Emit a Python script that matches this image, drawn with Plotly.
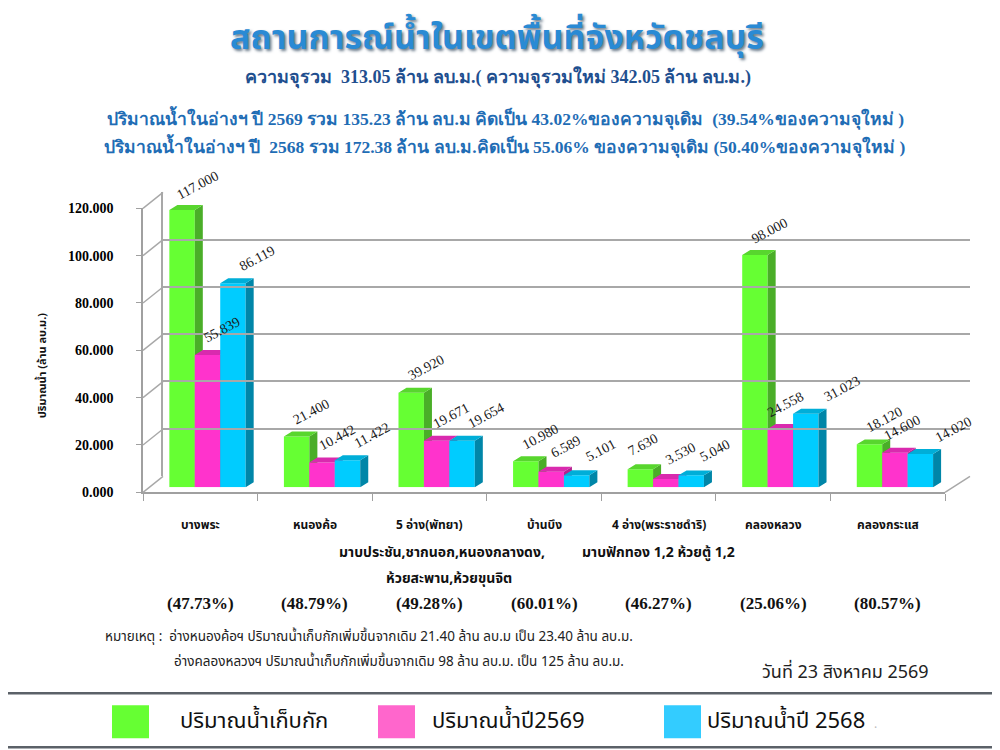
import plotly.graph_objects as go

# data
categories = ["บางพระ", "หนองค้อ", "5 อ่าง(พัทยา)", "บ้านบึง", "4 อ่าง(พระราชดำริ)", "คลองหลวง", "คลองกระแส"]
sub_line2 = ["", "", "มาบประชัน,ชากนอก,หนองกลางดง,", "", "มาบฟักทอง 1,2 ห้วยตู้ 1,2", "", ""]
sub_line3 = ["", "", "ห้วยสะพาน,ห้วยขุนจิต", "", "", "", ""]
capacity = [117.000, 21.400, 39.920, 10.980, 7.630, 98.000, 18.120]
water_2569 = [55.839, 10.442, 19.671, 6.589, 3.530, 24.558, 14.600]
water_2568 = [86.119, 11.422, 19.654, 5.101, 5.040, 31.023, 14.020]
percent_labels = ["(47.73%)", "(48.79%)", "(49.28%)", "(60.01%)", "(46.27%)", "(25.06%)", "(80.57%)"]
series_names = ["ปริมาณน้ำเก็บกัก", "ปริมาณน้ำปี2569", "ปริมาณน้ำปี 2568"]
y_ticks = [0, 20, 40, 60, 80, 100, 120]

title_text = "สถานการณ์น้ำในเขตพื้นที่จังหวัดชลบุรี"
sub1 = "ความจุรวม  313.05 ล้าน ลบ.ม.( ความจุรวมใหม่ 342.05 ล้าน ลบ.ม.)"
sub2 = "ปริมาณน้ำในอ่างฯ ปี 2569 รวม 135.23 ล้าน ลบ.ม คิดเป็น 43.02%ของความจุเดิม  (39.54%ของความจุใหม่ )"
sub3 = "ปริมาณน้ำในอ่างฯ ปี  2568 รวม 172.38 ล้าน ลบ.ม.คิดเป็น 55.06% ของความจุเดิม (50.40%ของความจุใหม่ )"
note1 = "หมายเหตุ :  อ่างหนองค้อฯ ปริมาณน้ำเก็บกักเพิ่มขึ้นจากเดิม 21.40 ล้าน ลบ.ม เป็น 23.40 ล้าน ลบ.ม."
note2 = "อ่างคลองหลวงฯ ปริมาณน้ำเก็บกักเพิ่มขึ้นจากเดิม 98 ล้าน ลบ.ม. เป็น 125 ล้าน ลบ.ม."
date_text = "วันที่ 23 สิงหาคม 2569"
y_title = "ปริมาณน้ำ (ล้าน ลบ.ม.)"

W, H = 1000, 750

# map picture pixels to paper fractions (page is shown shifted / slightly squeezed)
def px(x):
    return (x - 8) / W

def py(y):
    return 1 - ((y - 14.7) / 0.98) / H

THAI = "Noto Sans Thai, Tahoma, Noto Sans, sans-serif"
SERIF = "Liberation Serif, Times New Roman, serif"

front = ["#66ff33", "#ff33cc", "#00ccff"]
side = ["#4aae28", "#b3238f", "#0086a8"]
top = ["#58d62e", "#d92aae", "#00aed8"]
offsets = [-0.27, -0.048, 0.174]
bar_w = 0.222
dx, dy = 0.07, 2.1
label_dx = [15, 15, 24]
label_nudge = {(0, 4): -12, (1, 5): -10, (1, 6): -7, (2, 5): 13, (2, 6): 9}
sub2_shift = [0, 0, 0.11, 0, 0.0, 0, 0]
sub3_shift = [0, 0, 0.175, 0, 0, 0, 0]

series = [capacity, water_2569, water_2568]
axes = [("x", "y"), ("x4", "y4"), ("x5", "y5")]

fig = go.Figure()

for s, vals in enumerate(series):
    xa, ya = axes[s]
    xs = [i + offsets[s] + bar_w / 2 for i in range(len(vals))]
    fig.add_trace(go.Bar(x=xs, y=vals, width=bar_w, name=series_names[s],
                         marker=dict(color=front[s], line=dict(width=0)),
                         xaxis=xa, yaxis=ya, showlegend=False))
    sx, sy, tx, ty = [], [], [], []
    for i, v in enumerate(vals):
        x0 = i + offsets[s]
        x1 = x0 + bar_w
        sx += [x1, x1 + dx, x1 + dx, x1, x1, None]
        sy += [0, dy, v + dy, v, 0, None]
        tx += [x0, x0 + dx, x1 + dx, x1, x0, None]
        ty += [v, v + dy, v + dy, v, v, None]
    fig.add_trace(go.Scatter(x=sx, y=sy, fill="toself", fillcolor=side[s], mode="lines",
                             line=dict(width=0), xaxis=xa, yaxis=ya,
                             showlegend=False, hoverinfo="skip"))
    fig.add_trace(go.Scatter(x=tx, y=ty, fill="toself", fillcolor=top[s], mode="lines",
                             line=dict(width=0), xaxis=xa, yaxis=ya,
                             showlegend=False, hoverinfo="skip"))
    for i, (x, v) in enumerate(zip(xs, vals)):
        fig.add_annotation(x=x, y=v, xref=xa, yref=ya, text=f"{v:.3f}", showarrow=False,
                           xanchor="center", yanchor="middle",
                           xshift=label_dx[s] + label_nudge.get((s, i), 0), yshift=25,
                           textangle=-28,
                           font=dict(family=SERIF, size=14, color="#1a1a1a"))

# invisible traces for the back wall and the front axis
fig.add_trace(go.Scatter(x=[None], y=[None], xaxis="x2", yaxis="y2", showlegend=False))
fig.add_trace(go.Scatter(x=[None], y=[None], xaxis="x3", yaxis="y3", showlegend=False))

fig.update_layout(
    width=W, height=H, margin=dict(l=0, r=0, t=0, b=0),
    paper_bgcolor="white", plot_bgcolor="rgba(0,0,0,0)",
    xaxis=dict(domain=[px(143), px(945)], range=[-0.5, 6.5], visible=False),
    yaxis=dict(domain=[py(487), py(202.6)], range=[0, 120], visible=False),
    xaxis4=dict(overlaying="x", range=[-0.5, 6.5], visible=False),
    yaxis4=dict(overlaying="y", range=[0, 120], visible=False),
    xaxis5=dict(overlaying="x", range=[-0.5, 6.5], visible=False),
    yaxis5=dict(overlaying="y", range=[0, 120], visible=False),
    xaxis2=dict(domain=[px(163), px(970)], range=[0, 1], visible=False, anchor="y2"),
    yaxis2=dict(domain=[py(476), py(192)], range=[-0.2, 120.2], anchor="x2",
                tickvals=y_ticks, showticklabels=False, showgrid=True,
                gridcolor="#a8a8a8", gridwidth=1.5, zeroline=False,
                showline=True, linecolor="#a8a8a8", linewidth=1.5, ticks=""),
    xaxis3=dict(domain=[px(143), px(945)], range=[-0.5, 6.5], anchor="y3",
                tickvals=[i - 0.5 for i in range(len(categories) + 1)],
                showticklabels=False, ticks="outside", ticklen=7, tickcolor="#a0a0a0",
                showline=True, linecolor="#a0a0a0", linewidth=1.5, showgrid=False, zeroline=False),
    yaxis3=dict(domain=[py(492), py(208)], range=[0, 120], anchor="x3",
                tickvals=y_ticks, ticktext=[f"{v:.3f}" for v in y_ticks],
                ticks="outside", ticklen=5, tickcolor="#a0a0a0", ticklabelstandoff=20,
                tickfont=dict(family=SERIF, size=14, color="black", weight="bold"),
                showline=True, linecolor="#a0a0a0", linewidth=1.5, showgrid=False, zeroline=False),
)

# 3D frame: left wall diagonals and right floor edge
shapes = []
for v in y_ticks:
    yf = py(492) + (py(208) - py(492)) * v / 120
    yb = py(476) + (py(192) - py(476)) * v / 120
    shapes.append(dict(type="line", xref="paper", yref="paper", x0=px(143), y0=yf,
                       x1=px(163), y1=yb, line=dict(color="#a8a8a8", width=1.5)))
shapes.append(dict(type="line", xref="paper", yref="paper", x0=px(945), y0=py(492),
                   x1=px(970), y1=py(476), line=dict(color="#a8a8a8", width=1.5)))

# legend drawn as a boxed strip
shapes.append(dict(type="rect", xref="paper", yref="paper", x0=px(1), y0=py(747),
                   x1=px(999), y1=py(693), line=dict(color="#5b6168", width=2.5)))
legend_x = [112, 378, 664]
legend_text_x = [178, 430, 705]
legend_col = ["#66ff33", "#ff66cc", "#33ccff"]
for k in range(3):
    shapes.append(dict(type="rect", xref="paper", yref="paper", x0=px(legend_x[k]), y0=py(738),
                       x1=px(legend_x[k] + 37), y1=py(705), fillcolor=legend_col[k],
                       line=dict(width=0)))
    fig.add_annotation(x=px(legend_text_x[k]), y=py(721), xref="paper", yref="paper",
                       text=series_names[k], showarrow=False, xanchor="left", yanchor="middle",
                       font=dict(family=THAI, size=22, color="#111"))
fig.add_annotation(x=px(872), y=py(724), xref="paper", yref="paper", text=".", showarrow=False,
                   xanchor="left", yanchor="middle", font=dict(family=THAI, size=12, color="#bbb"))
fig.update_layout(shapes=shapes)

# category labels under the axis
cat_font = dict(family=THAI, size=12, color="#111", weight="bold")
sub_font = dict(family=THAI, size=14, color="#111", weight="bold")
for i in range(len(categories)):
    fig.add_annotation(x=i, y=py(525), xref="x", yref="paper", text=categories[i],
                       showarrow=False, xanchor="center", yanchor="middle", font=cat_font)
    if sub_line2[i]:
        fig.add_annotation(x=i + sub2_shift[i], y=py(552), xref="x", yref="paper", text=sub_line2[i],
                           showarrow=False, xanchor="center", yanchor="middle", font=sub_font)
    if sub_line3[i]:
        fig.add_annotation(x=i + sub3_shift[i], y=py(578), xref="x", yref="paper", text=sub_line3[i],
                           showarrow=False, xanchor="center", yanchor="middle", font=sub_font)
    fig.add_annotation(x=i, y=py(603), xref="x", yref="paper", text=percent_labels[i],
                       showarrow=False, xanchor="center", yanchor="middle",
                       font=dict(family=SERIF, size=17, color="#111", weight="bold"))

# titles and notes
def text_at(x, y, text, font, xanchor="center", angle=0):
    fig.add_annotation(x=px(x), y=py(y), xref="paper", yref="paper", text=text,
                       showarrow=False, xanchor=xanchor, yanchor="middle",
                       textangle=angle, font=font)

text_at(497, 38, title_text, dict(family=THAI, size=34, color="#2a8ad4", weight="bold",
                                  shadow="2px 2px 3px #6a7a8a"))
text_at(498, 77, sub1, dict(family=SERIF, size=18, color="#1f4f8f", weight="bold"))
text_at(505, 118, sub2, dict(family=SERIF, size=17.5, color="#1f6db5", weight="bold"))
text_at(505, 146, sub3, dict(family=SERIF, size=17.5, color="#1f6db5", weight="bold"))
text_at(42, 365, y_title, dict(family=THAI, size=11, color="#111", weight="bold"), angle=-90)
text_at(103, 637, note1, dict(family=THAI, size=13.5, color="#222"), xanchor="left")
text_at(172, 662, note2, dict(family=THAI, size=13.5, color="#222"), xanchor="left")
text_at(845, 672, date_text, dict(family=THAI, size=18, color="#222"))

fig.write_html("out.html")
